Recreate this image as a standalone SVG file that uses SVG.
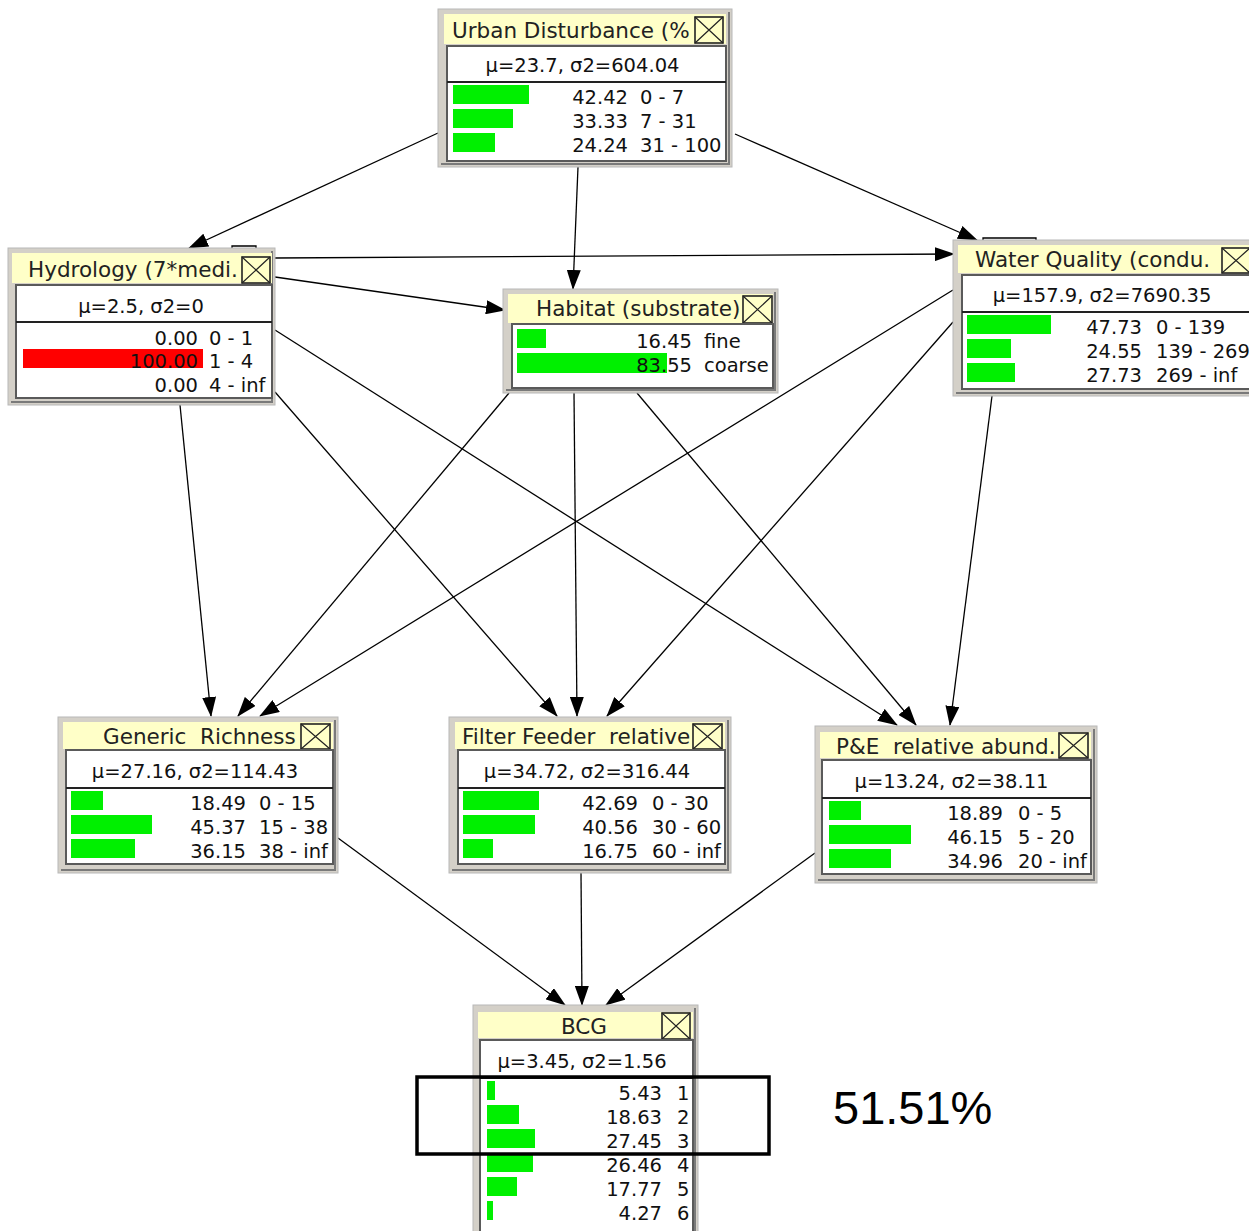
<svg xmlns="http://www.w3.org/2000/svg" width="1249" height="1231" viewBox="0 0 1249 1231">
<defs>
<style>
.frame{fill:#d4d0c8;stroke:#b8b8b8;stroke-width:1}
.shd{fill:none;stroke:#7a7a7a;stroke-width:2}
.tbar{fill:#ffffc8}
.panel{fill:#fff;stroke:#5a5a5a;stroke-width:2}
.xbox{fill:#ffffc8;stroke:#222;stroke-width:1.6}
.xl{stroke:#222;stroke-width:1.2}
.sep{stroke:#222;stroke-width:2}
.g{fill:#00f000}
.r{fill:#ff0000}
.ttl{font-family:"DejaVu Sans",sans-serif;font-size:21.5px;fill:#222}
.mean{font-family:"DejaVu Sans",sans-serif;font-size:19.5px;fill:#111;text-anchor:middle}
.val{font-family:"DejaVu Sans",sans-serif;font-size:19.5px;fill:#111;text-anchor:end}
.lab{font-family:"DejaVu Sans",sans-serif;font-size:19.5px;fill:#111}
.edge{stroke:#000;stroke-width:1.3;fill:none;marker-end:url(#ah)}
.stub{stroke:#000;stroke-width:1.3;fill:none}
.big{font-family:"Liberation Sans",Arial,sans-serif;font-size:47px;fill:#000}
</style>
<marker id="ah" markerUnits="userSpaceOnUse" markerWidth="20" markerHeight="14" refX="19" refY="7" orient="auto">
<path d="M0,0 L20,7 L0,14 Z" fill="#000"/>
</marker>
</defs>
<rect width="1249" height="1231" fill="#fff"/>

<g id="connectors">
<line class="edge" x1="438" y1="133" x2="189" y2="248"/>
<line class="edge" x1="578" y1="167" x2="573" y2="289"/>
<line class="edge" x1="735" y1="134" x2="977" y2="240"/>
<line class="edge" x1="275" y1="258" x2="954" y2="254"/>
<line class="edge" x1="275" y1="277" x2="505" y2="310"/>
<line class="edge" x1="180" y1="405" x2="211" y2="716"/>
<line class="edge" x1="275" y1="392" x2="557" y2="716"/>
<line class="edge" x1="275" y1="330" x2="897" y2="725"/>
<line class="edge" x1="509" y1="393" x2="238" y2="716"/>
<line class="edge" x1="574" y1="393" x2="577" y2="716"/>
<line class="edge" x1="637" y1="393" x2="916" y2="725"/>
<line class="edge" x1="953" y1="290" x2="260" y2="716"/>
<line class="edge" x1="953" y1="322" x2="607" y2="716"/>
<line class="edge" x1="992" y1="396" x2="950" y2="725"/>
<line class="edge" x1="338" y1="838" x2="565" y2="1005"/>
<line class="edge" x1="581" y1="873" x2="582" y2="1005"/>
<line class="edge" x1="815" y1="853" x2="606" y2="1005"/>
<path class="stub" d="M232,251 V246 H256 V251"/>
<path class="stub" d="M983,242 V238 H1036 V242"/>
</g>

<g id="node-urban">
<rect class="frame" x="438" y="9" width="294" height="158"/>
<path class="shd" d="M729,12 V164 H441"/>
<rect class="tbar" x="444" y="14" width="282" height="30"/>
<text class="ttl" x="452" y="38">Urban Disturbance (%</text>
<rect class="xbox" x="695" y="17" width="28" height="26"/>
<path class="xl" d="M695,17 L723,43 M723,17 L695,43"/>
<rect class="panel" x="447" y="46" width="279" height="115"/>
<text class="mean" x="582.5" y="72">μ=23.7, σ2=604.04</text>
<line class="sep" x1="447" y1="82" x2="726" y2="82"/>
<rect class="g" x="453" y="85" width="76" height="19"/>
<rect class="g" x="453" y="109" width="60" height="19"/>
<rect class="g" x="453" y="133" width="42" height="19"/>
<text class="val" x="628" y="104">42.42</text><text class="lab" x="640" y="104">0 - 7</text>
<text class="val" x="628" y="128">33.33</text><text class="lab" x="640" y="128">7 - 31</text>
<text class="val" x="628" y="152">24.24</text><text class="lab" x="640" y="152">31 - 100</text>
</g>

<g id="node-hydrology">
<rect class="frame" x="8" y="248" width="267" height="157"/>
<path class="shd" d="M272,251 V402 H11"/>
<rect class="tbar" x="12" y="253" width="260" height="30"/>
<text class="ttl" x="28" y="277">Hydrology (7*medi.</text>
<rect class="xbox" x="242" y="257" width="28" height="26"/>
<path class="xl" d="M242,257 L270,283 M270,257 L242,283"/>
<rect class="panel" x="16" y="285" width="256" height="113"/>
<text class="mean" x="141" y="313">μ=2.5, σ2=0</text>
<line class="sep" x1="16" y1="322" x2="272" y2="322"/>
<rect class="r" x="23" y="349" width="180" height="19"/>
<text class="val" x="198" y="345">0.00</text><text class="lab" x="209" y="345">0 - 1</text>
<text class="val" x="198" y="368">100.00</text><text class="lab" x="209" y="368">1 - 4</text>
<text class="val" x="198" y="392">0.00</text><text class="lab" x="209" y="392">4 - inf</text>
</g>

<g id="node-habitat">
<rect class="frame" x="503" y="289" width="275" height="104"/>
<path class="shd" d="M775,292 V390 H506"/>
<rect class="tbar" x="508" y="294" width="265" height="29"/>
<text class="ttl" x="536" y="316">Habitat (substrate)</text>
<rect class="xbox" x="743" y="296" width="29" height="27"/>
<path class="xl" d="M743,296 L772,323 M772,296 L743,323"/>
<rect class="panel" x="512" y="324" width="261" height="64"/>
<rect class="g" x="517" y="329" width="29" height="19"/>
<rect class="g" x="517" y="353" width="150" height="20"/>
<text class="val" x="692" y="348">16.45</text><text class="lab" x="704" y="348">fine</text>
<text class="val" x="692" y="372">83.55</text><text class="lab" x="704" y="372">coarse</text>
</g>

<g id="node-waterquality">
<rect class="frame" x="953" y="240" width="310" height="156"/>
<path class="shd" d="M956,393 H1262"/>
<rect class="tbar" x="958" y="245" width="300" height="28"/>
<text class="ttl" x="975" y="267">Water Quality (condu.</text>
<rect class="xbox" x="1222" y="248" width="28" height="25"/>
<path class="xl" d="M1222,248 L1250,273 M1250,248 L1222,273"/>
<rect class="panel" x="962" y="275" width="300" height="114"/>
<text class="mean" x="1102" y="302">μ=157.9, σ2=7690.35</text>
<line class="sep" x1="962" y1="312" x2="1262" y2="312"/>
<rect class="g" x="967" y="315" width="84" height="19"/>
<rect class="g" x="967" y="339" width="44" height="19"/>
<rect class="g" x="967" y="363" width="48" height="19"/>
<text class="val" x="1142" y="334">47.73</text><text class="lab" x="1156" y="334">0 - 139</text>
<text class="val" x="1142" y="358">24.55</text><text class="lab" x="1156" y="358">139 - 269</text>
<text class="val" x="1142" y="382">27.73</text><text class="lab" x="1156" y="382">269 - inf</text>
</g>

<g id="node-generic">
<rect class="frame" x="58" y="717" width="280" height="156"/>
<path class="shd" d="M335,720 V870 H61"/>
<rect class="tbar" x="63" y="722" width="270" height="27"/>
<text class="ttl" x="103" y="744" xml:space="preserve">Generic  Richness</text>
<rect class="xbox" x="301" y="724" width="29" height="25"/>
<path class="xl" d="M301,724 L330,749 M330,724 L301,749"/>
<rect class="panel" x="66" y="750" width="267" height="114"/>
<text class="mean" x="195" y="778">μ=27.16, σ2=114.43</text>
<line class="sep" x1="66" y1="788" x2="333" y2="788"/>
<rect class="g" x="71" y="791" width="32" height="19"/>
<rect class="g" x="71" y="815" width="81" height="19"/>
<rect class="g" x="71" y="839" width="64" height="19"/>
<text class="val" x="246" y="810">18.49</text><text class="lab" x="259" y="810">0 - 15</text>
<text class="val" x="246" y="834">45.37</text><text class="lab" x="259" y="834">15 - 38</text>
<text class="val" x="246" y="858">36.15</text><text class="lab" x="259" y="858">38 - inf</text>
</g>

<g id="node-filter">
<rect class="frame" x="449" y="717" width="282" height="156"/>
<path class="shd" d="M728,720 V870 H452"/>
<rect class="tbar" x="455" y="722" width="270" height="27"/>
<text class="ttl" x="462" y="744" xml:space="preserve">Filter Feeder  relative</text>
<rect class="xbox" x="693" y="724" width="29" height="25"/>
<path class="xl" d="M693,724 L722,749 M722,724 L693,749"/>
<rect class="panel" x="458" y="750" width="267" height="114"/>
<text class="mean" x="587" y="778">μ=34.72, σ2=316.44</text>
<line class="sep" x1="458" y1="788" x2="725" y2="788"/>
<rect class="g" x="463" y="791" width="76" height="19"/>
<rect class="g" x="463" y="815" width="72" height="19"/>
<rect class="g" x="463" y="839" width="30" height="19"/>
<text class="val" x="638" y="810">42.69</text><text class="lab" x="652" y="810">0 - 30</text>
<text class="val" x="638" y="834">40.56</text><text class="lab" x="652" y="834">30 - 60</text>
<text class="val" x="638" y="858">16.75</text><text class="lab" x="652" y="858">60 - inf</text>
</g>

<g id="node-pe">
<rect class="frame" x="815" y="726" width="282" height="157"/>
<path class="shd" d="M1094,729 V880 H818"/>
<rect class="tbar" x="820" y="732" width="271" height="26"/>
<text class="ttl" x="836" y="754" xml:space="preserve">P&amp;E  relative abund.</text>
<rect class="xbox" x="1059" y="733" width="29" height="25"/>
<path class="xl" d="M1059,733 L1088,758 M1088,733 L1059,758"/>
<rect class="panel" x="822" y="760" width="269" height="114"/>
<text class="mean" x="951.5" y="788">μ=13.24, σ2=38.11</text>
<line class="sep" x1="822" y1="798" x2="1091" y2="798"/>
<rect class="g" x="829" y="801" width="32" height="19"/>
<rect class="g" x="829" y="825" width="82" height="19"/>
<rect class="g" x="829" y="849" width="62" height="19"/>
<text class="val" x="1003" y="820">18.89</text><text class="lab" x="1018" y="820">0 - 5</text>
<text class="val" x="1003" y="844">46.15</text><text class="lab" x="1018" y="844">5 - 20</text>
<text class="val" x="1003" y="868">34.96</text><text class="lab" x="1018" y="868">20 - inf</text>
</g>

<g id="node-bcg">
<rect class="frame" x="473" y="1005" width="225" height="240"/>
<path class="shd" d="M695,1008 V1240"/>
<rect class="tbar" x="478" y="1012" width="215" height="26"/>
<text class="ttl" x="584" y="1034" text-anchor="middle">BCG</text>
<rect class="xbox" x="662" y="1013" width="28" height="26"/>
<path class="xl" d="M662,1013 L690,1039 M690,1013 L662,1039"/>
<rect class="panel" x="480" y="1040" width="213" height="200"/>
<text class="mean" x="582" y="1068">μ=3.45, σ2=1.56</text>
<line class="sep" x1="480" y1="1078" x2="693" y2="1078"/>
<rect class="g" x="487" y="1081" width="8" height="19"/>
<rect class="g" x="487" y="1105" width="32" height="19"/>
<rect class="g" x="487" y="1129" width="48" height="19"/>
<rect class="g" x="487" y="1153" width="46" height="19"/>
<rect class="g" x="487" y="1177" width="30" height="19"/>
<rect class="g" x="487" y="1201" width="6" height="19"/>
<text class="val" x="662" y="1100">5.43</text><text class="lab" x="677" y="1100">1</text>
<text class="val" x="662" y="1124">18.63</text><text class="lab" x="677" y="1124">2</text>
<text class="val" x="662" y="1148">27.45</text><text class="lab" x="677" y="1148">3</text>
<text class="val" x="662" y="1172">26.46</text><text class="lab" x="677" y="1172">4</text>
<text class="val" x="662" y="1196">17.77</text><text class="lab" x="677" y="1196">5</text>
<text class="val" x="662" y="1220">4.27</text><text class="lab" x="677" y="1220">6</text>
</g>

<g id="highlight">
<rect x="417" y="1077" width="352" height="77" fill="none" stroke="#000" stroke-width="3.5"/>
<text class="big" x="833" y="1124">51.51%</text>
</g>
</svg>
